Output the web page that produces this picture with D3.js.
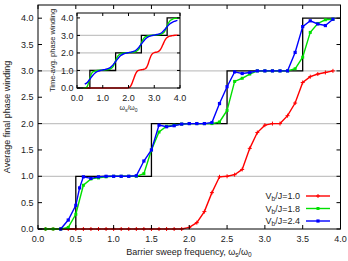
<!DOCTYPE html>
<html><head><meta charset="utf-8">
<script src="https://cdn.jsdelivr.net/npm/d3@7"></script>
<style>body{margin:0;background:#fff}svg{display:block;font-family:"Liberation Sans",Arial,sans-serif}</style>
</head><body><svg id="c" width="348" height="261"></svg>
<script>
// ---------- data ----------
const mainTicks = [0,0.5,1,1.5,2,2.5,3,3.5,4];
const gridLevels = [1,2,3];
const stepX = [0,0.5,1.5,2.5,3.5,4.0];
const stepY = [0,1,2,3,4,4];

const redX = [0.1,0.2,0.3,0.4,0.5,0.6,0.7,0.8,0.9,1.0,1.1,1.2,1.3,1.4,1.5,1.6,1.7,1.8,1.9,2.0,2.1,2.2,2.3,2.4,2.5,2.6,2.7,2.8,2.9,3.0,3.1,3.2,3.3,3.4,3.5,3.6,3.7,3.8,3.9];
const redY = [0,0,0,0,0,0,0,0,0,0,0,0,0,0,0,0,0,0,0,0.03,0.12,0.33,0.69,0.99,1.0,1.03,1.13,1.53,1.83,1.97,2.0,2.0,2.15,2.39,2.78,2.89,2.94,2.97,3.0];

const greenX = [0.1,0.2,0.3,0.4,0.5,0.6,0.7,0.8,0.9,1.0,1.1,1.2,1.3,1.4,1.5,1.6,1.7,1.8,1.9,2.0,2.1,2.2,2.3,2.4,2.5,2.6,2.7,2.8,2.9,3.0,3.1,3.2,3.3,3.4,3.5,3.6,3.7,3.8,3.9];
const greenY = [0,0,0,0.03,0.28,0.83,0.95,0.97,0.99,1.0,1.0,1.0,1.0,1.05,1.5,1.84,1.95,1.97,1.99,2.0,2.0,2.0,2.0,2.03,2.25,2.8,2.86,2.94,3.0,3.0,3.0,3.0,3.0,3.04,3.26,3.73,3.9,3.97,3.98];

const blueX = [0.3,0.4,0.5,0.55,0.6,0.7,0.8,0.9,1.0,1.1,1.2,1.3,1.4,1.5,1.6,1.7,1.8,1.9,2.0,2.1,2.2,2.3,2.4,2.5,2.6,2.7,2.8,2.9,3.0,3.1,3.2,3.3,3.4,3.5,3.6,3.7,3.8,3.9];
const blueY = [0,0.17,0.45,0.78,0.99,0.96,0.99,1.0,1.0,1.0,1.0,1.01,1.29,1.5,1.97,1.94,1.96,1.99,2.0,2.0,2.0,2.02,2.38,2.7,2.98,2.95,2.97,3.0,3.0,3.0,3.0,3.0,3.35,3.84,3.95,3.89,3.86,3.98];

// inset (time-averaged) curves
const insetTicks = [0,1,2,3,4];
const insRedX = [0.25,0.5,1.0,1.5,1.9,2.0,2.05,2.1,2.15,2.2,2.25,2.3,2.35,2.4,2.5,2.6,2.65,2.7,2.75,2.8,2.85,2.9,2.95,3.0,3.1,3.15,3.2,3.25,3.3,3.35,3.4,3.45,3.5,3.55,3.6,3.7,3.8,3.9,3.95];
const insRedY = [0,0,0,0,0,0.01,0.05,0.15,0.32,0.52,0.72,0.88,0.97,1.01,1.04,1.07,1.1,1.17,1.32,1.55,1.76,1.9,1.98,2.02,2.05,2.08,2.13,2.22,2.36,2.52,2.68,2.8,2.88,2.93,2.96,2.99,3.01,3.02,3.02];
const insGreenX = [0.25,0.35,0.4,0.45,0.5,0.55,0.6,0.7,0.8,1.0,1.2,1.3,1.4,1.45,1.5,1.55,1.6,1.7,1.8,2.0,2.2,2.3,2.4,2.45,2.5,2.55,2.6,2.7,2.8,3.0,3.2,3.3,3.4,3.45,3.5,3.55,3.6,3.7,3.8,3.95];
const insGreenY = [0,0.02,0.1,0.3,0.55,0.78,0.9,0.97,1.0,1.02,1.05,1.09,1.22,1.38,1.56,1.73,1.85,1.95,1.99,2.02,2.05,2.09,2.22,2.38,2.56,2.73,2.85,2.95,2.99,3.02,3.05,3.09,3.22,3.38,3.55,3.7,3.82,3.92,3.97,3.99];
const insBlueX = [0.3,0.4,0.5,0.6,0.7,0.8,0.9,1.0,1.1,1.2,1.3,1.4,1.5,1.6,1.7,1.8,1.9,2.0,2.1,2.2,2.3,2.4,2.5,2.6,2.7,2.8,2.9,3.0,3.1,3.2,3.3,3.4,3.5,3.6,3.7,3.8,3.9];
const insBlueY = [0.22,0.32,0.5,0.7,0.86,0.95,1.0,1.03,1.06,1.1,1.18,1.32,1.51,1.7,1.85,1.94,1.99,2.02,2.05,2.09,2.17,2.32,2.51,2.7,2.85,2.94,2.99,3.02,3.05,3.09,3.17,3.32,3.5,3.65,3.75,3.81,3.86];

const legendLabels = ["1.0","1.8","2.4"];
const colors = {red:"#ff0000", green:"#00e000", blue:"#0000ff"};

// ---------- drawing ----------
const svg = d3.select("#c");
const x = d3.scaleLinear([0,4],[38,340.5]);
const y = d3.scaleLinear([0,4.25],[229,5]);
const txt = "#222";

// grid
svg.append("g").selectAll("line").data(gridLevels).join("line")
  .attr("x1",x(0)).attr("x2",x(4)).attr("y1",d=>y(d)).attr("y2",d=>y(d))
  .attr("stroke","#c4c4c4").attr("stroke-width",1.3);

const zip = (xs,ys)=>xs.map((v,i)=>[v,ys[i]]);
const line = (sx,sy)=>d3.line().x(d=>sx(d[0])).y(d=>sy(d[1]));

// staircase
svg.append("path").datum(zip(stepX,stepY))
  .attr("d",line(x,y).curve(d3.curveStepAfter))
  .attr("fill","none").attr("stroke","#000").attr("stroke-width",1.3);

function series(xs,ys,col,marker){
  const data = zip(xs,ys);
  svg.append("path").datum(data).attr("d",line(x,y))
    .attr("fill","none").attr("stroke",col).attr("stroke-width",1.4);
  const g = svg.append("g");
  if(marker==="plus"){
    g.selectAll("path").data(data).join("path")
      .attr("d",d=>`M${x(d[0])-2},${y(d[1])}h4M${x(d[0])},${y(d[1])-2}v4`)
      .attr("stroke",col).attr("stroke-width",1);
  } else {
    const s = marker;
    g.selectAll("rect").data(data).join("rect")
      .attr("x",d=>x(d[0])-s/2).attr("y",d=>y(d[1])-s/2).attr("width",s).attr("height",s)
      .attr("fill",col);
  }
}
series(redX,redY,colors.red,"plus");
series(greenX,greenY,colors.green,3);
series(blueX,blueY,colors.blue,3.2);

// frame
svg.append("rect").attr("x",x(0)).attr("y",y(4.25)).attr("width",x(4)-x(0)).attr("height",y(0)-y(4.25))
  .attr("fill","none").attr("stroke","#000").attr("stroke-width",1);

// ticks (inward, mirrored)
const tk = svg.append("g").attr("stroke","#000").attr("stroke-width",1);
mainTicks.forEach(t=>{
  tk.append("line").attr("x1",x(t)).attr("x2",x(t)).attr("y1",y(0)).attr("y2",y(0)-4);
  tk.append("line").attr("x1",x(t)).attr("x2",x(t)).attr("y1",y(4.25)).attr("y2",y(4.25)+4);
  tk.append("line").attr("x1",x(0)).attr("x2",x(0)+4).attr("y1",y(t)).attr("y2",y(t));
  tk.append("line").attr("x1",x(4)).attr("x2",x(4)-4).attr("y1",y(t)).attr("y2",y(t));
});
svg.append("g").selectAll("text").data(mainTicks).join("text")
  .attr("x",d=>x(d)).attr("y",242).attr("text-anchor","middle")
  .attr("font-size",9).attr("fill",txt).text(d=>d.toFixed(1));
svg.append("g").selectAll("text").data(mainTicks).join("text")
  .attr("x",33.5).attr("y",d=>y(d)+3.2).attr("text-anchor","end")
  .attr("font-size",9).attr("fill",txt).text(d=>d.toFixed(1));

// axis titles
const xl = svg.append("text").attr("x",189).attr("y",254.5).attr("text-anchor","middle")
  .attr("font-size",9).attr("fill",txt);
xl.append("tspan").text("Barrier sweep frequency, ω");
xl.append("tspan").attr("font-size",6.5).attr("dy",2).text("s");
xl.append("tspan").attr("dy",-2).text("/ω");
xl.append("tspan").attr("font-size",6.5).attr("dy",2).text("0");
svg.append("text").attr("transform","translate(10,117) rotate(-90)").attr("text-anchor","middle")
  .attr("font-size",9).attr("fill",txt).text("Average final phase winding");

// legend
const leg = svg.append("g");
[[colors.red,"plus"],[colors.green,3],[colors.blue,3.2]].forEach((c,i)=>{
  const yy = 196 + i*12.5;
  const t = leg.append("text").attr("x",300).attr("y",yy+3.2).attr("text-anchor","end")
    .attr("font-size",9).attr("fill",txt);
  t.append("tspan").text("V");
  t.append("tspan").attr("font-size",6.5).attr("dy",2).text("b");
  t.append("tspan").attr("dy",-2).text("/J=" + legendLabels[i]);
  leg.append("line").attr("x1",306).attr("x2",330).attr("y1",yy).attr("y2",yy)
    .attr("stroke",c[0]).attr("stroke-width",1.4);
  if(c[1]==="plus"){
    leg.append("path").attr("d",`M316,${yy}h4M318,${yy-2}v4`).attr("stroke",c[0]).attr("stroke-width",1);
  } else {
    leg.append("rect").attr("x",318-c[1]/2).attr("y",yy-c[1]/2).attr("width",c[1]).attr("height",c[1]).attr("fill",c[0]);
  }
});

// ---------- inset ----------
const xi = d3.scaleLinear([0,4],[77,180]);
const yi = d3.scaleLinear([0,4.28],[88,13]);
svg.append("rect").attr("x",xi(0)).attr("y",yi(4.28)).attr("width",xi(4)-xi(0)).attr("height",yi(0)-yi(4.28))
  .attr("fill","#fff");
svg.append("g").selectAll("line").data(gridLevels).join("line")
  .attr("x1",xi(0)).attr("x2",xi(4)).attr("y1",d=>yi(d)).attr("y2",d=>yi(d))
  .attr("stroke","#c4c4c4").attr("stroke-width",1.3);
svg.append("path").datum(zip(stepX,stepY)).attr("d",line(xi,yi).curve(d3.curveStepAfter))
  .attr("fill","none").attr("stroke","#000").attr("stroke-width",1.3);
[[insRedX,insRedY,colors.red],[insGreenX,insGreenY,colors.green],[insBlueX,insBlueY,colors.blue]].forEach(s=>{
  svg.append("path").datum(zip(s[0],s[1])).attr("d",line(xi,yi).curve(d3.curveMonotoneX))
    .attr("fill","none").attr("stroke",s[2]).attr("stroke-width",1.4);
});
svg.append("rect").attr("x",xi(0)).attr("y",yi(4.28)).attr("width",xi(4)-xi(0)).attr("height",yi(0)-yi(4.28))
  .attr("fill","none").attr("stroke","#000").attr("stroke-width",1);
const tki = svg.append("g").attr("stroke","#000").attr("stroke-width",1);
insetTicks.forEach(t=>{
  tki.append("line").attr("x1",xi(t)).attr("x2",xi(t)).attr("y1",yi(0)).attr("y2",yi(0)-3);
  tki.append("line").attr("x1",xi(t)).attr("x2",xi(t)).attr("y1",yi(4.28)).attr("y2",yi(4.28)+3);
  tki.append("line").attr("x1",xi(0)).attr("x2",xi(0)+3).attr("y1",yi(t)).attr("y2",yi(t));
  tki.append("line").attr("x1",xi(4)).attr("x2",xi(4)-3).attr("y1",yi(t)).attr("y2",yi(t));
});
svg.append("g").selectAll("text").data(insetTicks).join("text")
  .attr("x",d=>xi(d)).attr("y",101).attr("text-anchor","middle")
  .attr("font-size",9).attr("fill",txt).text(d=>d.toFixed(1));
svg.append("g").selectAll("text").data(insetTicks).join("text")
  .attr("x",73.5).attr("y",d=>yi(d)+3.2).attr("text-anchor","end")
  .attr("font-size",9).attr("fill",txt).text(d=>d.toFixed(1));
const xil = svg.append("text").attr("x",128.5).attr("y",110).attr("text-anchor","middle")
  .attr("font-size",7).attr("fill",txt);
xil.append("tspan").text("ω");
xil.append("tspan").attr("font-size",5).attr("dy",1.5).text("s");
xil.append("tspan").attr("dy",-1.5).text("/ω");
xil.append("tspan").attr("font-size",5).attr("dy",1.5).text("0");
svg.append("text").attr("transform","translate(55,50.5) rotate(-90)").attr("text-anchor","middle")
  .attr("font-size",7.5).attr("fill",txt).text("Time-avg. phase winding");
</script></body></html>
